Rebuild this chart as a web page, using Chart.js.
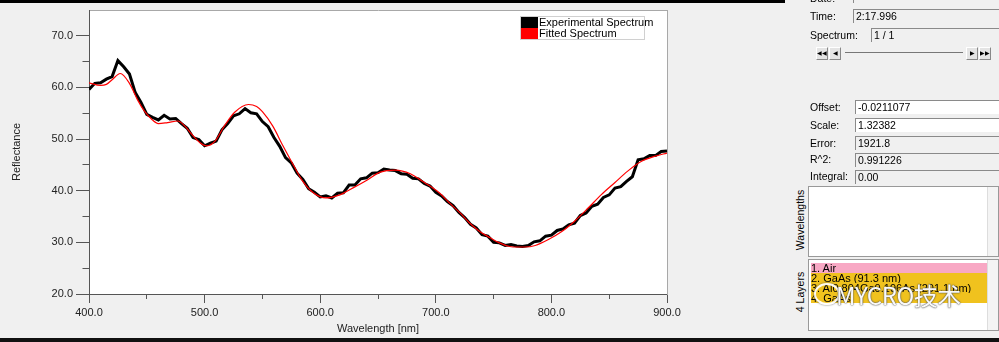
<!DOCTYPE html>
<html lang="en">
<head>
<meta charset="UTF-8">
<title>Spectrum Fit</title>
<script src="https://cdn.jsdelivr.net/npm/chart.js"></script>
<style>
  body { margin: 0; width: 999px; height: 342px; background: #f0f0f0; position: relative; overflow: hidden;
         font-family: "Liberation Sans", Arial, sans-serif; font-size: 10px; color: #000; }
  .bar-top { position: absolute; left: 0; top: 0; width: 785px; height: 3px; background: #000; }
  .bar-bottom { position: absolute; left: 0; top: 338px; width: 999px; height: 4px; background: #111; }
  .chart-box { position: absolute; left: 0; top: 0; width: 687px; height: 342px; }
  .legend { position: absolute; left: 520px; top: 16px; width: 123px; height: 22px; background: #fff; border: 1px solid #d0d0d0; }
  .legend div { height: 11px; line-height: 11px; font-size: 11px; white-space: nowrap; }
  .legend span { display: inline-block; width: 17px; height: 11px; vertical-align: top; margin-right: 1px; }
  .lbl { position: absolute; left: 810px; height: 14px; line-height: 14px; font-size: 10.5px; }
  .fld { position: absolute; right: 0; height: 13px; line-height: 13px; padding-left: 2px; background: #f0f0f0;
         border-top: 1px solid #8a8a8a; border-left: 1px solid #8a8a8a; white-space: nowrap; font-size: 10.5px; }
  .fld.edit { background: #fff; }
  .btn { position: absolute; top: 47px; width: 10px; height: 11px; background: #e4e4e4; border-right: 1px solid #888;
         border-bottom: 1px solid #888; border-top: 1px solid #fff; border-left: 1px solid #fff; font-size: 6px;
         line-height: 11px; text-align: center; }
  .slider { position: absolute; left: 845px; top: 52px; width: 118px; height: 1px; background: #777; }
  .box { position: absolute; left: 808px; width: 189px; background: #fff; border: 1px solid #999; }
  .scroll { position: absolute; right: 0; top: 0; bottom: 0; width: 10px; background: #f4f4f4; border-left: 1px solid #ddd; }
  .vlbl { position: absolute; transform: rotate(-90deg); transform-origin: center; white-space: nowrap;
          font-size: 10.5px; width: 80px; text-align: center; }
  .row { position: absolute; left: 2px; width: 178px; height: 10px; line-height: 10px; font-size: 11px; white-space: nowrap; }
  .mark { position: absolute; left: 836px; top: 277px; font-family: "Noto Sans CJK SC", sans-serif; font-size: 24px;
          color: rgba(255,255,255,0.97); text-shadow: 0 0 2px #555, 0 0 1px #333; letter-spacing: -0.5px; }
  .bubble { position: absolute; width: 22px; height: 18px; border-radius: 50%; border: 2px solid rgba(255,255,255,0.95);
            box-shadow: 0 0 2px #555; }
</style>
</head>
<body>

<div class="bar-top"></div>
<div class="chart-box"><canvas id="spectrum-chart"></canvas></div>
<div class="legend" id="legend"></div>

<!-- right side panel -->
<div class="lbl" style="top:-9px;">Date:</div>
<div class="fld" style="left:853px; top:-11px;">2023-07-13 13:11:13</div>
<div class="lbl" style="top:9px;">Time:</div>
<div class="fld" style="left:853px; top:9px;">2:17.996</div>
<div class="lbl" style="top:28px;">Spectrum:</div>
<div class="fld" style="left:871px; top:28px;">1 / 1</div>
<div class="btn" style="left:816px;">&#9664;&#9664;</div>
<div class="btn" style="left:829px;">&#9664;</div>
<div class="slider"></div>
<div class="btn" style="left:966px;">&#9654;</div>
<div class="btn" style="left:979px;">&#9654;&#9654;</div>

<div class="lbl" style="top:100px;">Offset:</div>
<div class="fld edit" style="left:855px; top:100px;">-0.0211077</div>
<div class="lbl" style="top:118px;">Scale:</div>
<div class="fld edit" style="left:855px; top:118px;">1.32382</div>
<div class="lbl" style="top:136px;">Error:</div>
<div class="fld" style="left:855px; top:136px;">1921.8</div>
<div class="lbl" style="top:152px;">R^2:</div>
<div class="fld" style="left:855px; top:153px;">0.991226</div>
<div class="lbl" style="top:169px;">Integral:</div>
<div class="fld" style="left:855px; top:170px;">0.00</div>

<div class="vlbl" style="left:760px; top:214px;">Wavelengths</div>
<div class="box" style="top:186px; height:69px;"><div class="scroll"></div></div>

<div class="vlbl" style="left:760px; top:286px;">4 Layers</div>
<div class="box" style="top:259px; height:70px;">
  <div class="row" style="top:3px; background:#f8a8c4;">1. Air</div>
  <div class="row" style="top:13px; background:#f0c21e;">2. GaAs (91.3 nm)</div>
  <div class="row" style="top:23px; background:#f0c21e;">3. Al0.804Ga0.196As (201.1 nm)</div>
  <div class="row" style="top:33px; background:#f0c21e;">4. GaAs</div>
  <div class="scroll"></div>
</div>
<div class="bubble" style="left:814px; top:283px;"></div>
<div class="mark">MYCRO技术</div>

<div class="bar-bottom"></div>

<script>
// experimental spectrum, read every 5 nm
const expWavelengths = [400, 405, 410, 415, 420, 425, 430, 435, 440, 445, 450, 455, 460, 465, 470, 475, 480, 485, 490, 495,
    500, 505, 510, 515, 520, 525, 530, 535, 540, 545, 550, 555, 560, 565, 570, 575, 580, 585, 590, 595,
    600, 605, 610, 615, 620, 625, 630, 635, 640, 645, 650, 655, 660, 665, 670, 675, 680, 685, 690, 695,
    700, 705, 710, 715, 720, 725, 730, 735, 740, 745, 750, 755, 760, 765, 770, 775, 780, 785, 790, 795,
    800, 805, 810, 815, 820, 825, 830, 835, 840, 845, 850, 855, 860, 865, 870, 875, 880, 885, 890, 895, 900];
const expReflectance = [59.6, 60.8, 60.9, 61.6, 62.1, 65.2, 64.0, 62.6, 59.0, 57.1, 54.8, 54.2, 53.7, 54.6, 53.9, 54.0, 53.0, 52.1, 50.3, 49.9,
    48.7, 49.2, 49.6, 51.8, 53.0, 54.5, 54.9, 55.9, 55.1, 54.9, 53.4, 52.4, 50.3, 48.6, 46.4, 45.4, 43.4, 42.2, 40.4, 39.7,
    38.8, 39.0, 38.6, 39.5, 39.6, 41.1, 41.1, 42.3, 42.5, 43.4, 43.5, 44.2, 44.0, 43.9, 43.3, 43.2, 42.4, 42.3, 41.4, 40.9,
    39.7, 39.0, 37.9, 37.1, 35.8, 34.8, 33.5, 32.8, 31.5, 31.2, 30.0, 29.9, 29.4, 29.6, 29.3, 29.2, 29.4, 30.1, 30.3, 31.2,
    31.4, 32.3, 32.6, 33.4, 33.7, 35.2, 35.7, 37.0, 37.4, 38.7, 39.2, 40.5, 40.8, 41.8, 42.7, 46.0, 46.2, 46.8, 46.8, 47.6, 47.7];

// fitted spectrum
const fitWavelengths = [400, 410, 415, 420, 427, 435, 442, 448, 454, 460, 468, 477, 483, 489, 496, 502, 509, 517, 526, 538,
    545, 550, 559, 568, 577, 585, 594, 605, 617, 628, 640, 652, 665, 678, 686, 695, 703, 712, 721, 729,
    738, 747, 755, 764, 771, 777, 786, 797, 809, 820, 832, 843, 855, 866, 878, 890, 900];
const fitReflectance = [60.9, 60.4, 60.6, 61.5, 62.7, 60.8, 57.6, 55.4, 53.9, 53.0, 53.2, 53.5, 52.5, 50.9, 49.3, 48.7, 49.6, 52.5, 55.2, 56.7,
    56.3, 55.3, 52.5, 48.6, 44.9, 41.8, 39.6, 38.6, 39.2, 40.5, 42.0, 43.6, 44.0, 43.3, 42.2, 40.9, 39.6, 37.6, 35.7, 33.8,
    32.1, 30.9, 29.9, 29.2, 29.1, 29.1, 29.4, 30.5, 32.1, 34.1, 36.7, 39.2, 41.6, 43.8, 45.7, 46.7, 47.3];

const xMajorTicks = [400, 500, 600, 700, 800, 900];
const xMinorTicks = [450, 550, 650, 750, 850];
const yMajorTicks = [20, 30, 40, 50, 60, 70];
const yMinorTicks = [25, 35, 45, 55, 65];

const axisFont = { family: 'Liberation Sans', size: 11 };
const axisColor = '#555';
const textColor = '#222';

const plotBackground = {
    id: 'plotBackground',
    beforeDraw(chart) {
        const { ctx, chartArea } = chart;
        ctx.save();
        ctx.fillStyle = '#fff';
        ctx.fillRect(chartArea.left, chartArea.top, chartArea.right - chartArea.left, chartArea.bottom - chartArea.top);
        ctx.restore();
    }
};

function tickScale(position, weight, min, max, values, tickLength, size) {
    return {
        type: 'linear', position: position, weight: weight, min: min, max: max,
        afterBuildTicks: s => { s.ticks = values.map(v => ({ value: v })); },
        afterFit: s => { if (s.isHorizontal()) s.height = size; else s.width = size; },
        ticks: { display: false },
        grid: { drawOnChartArea: false, tickLength: tickLength, color: axisColor, display: tickLength > 0 },
        border: { display: true, color: tickLength > 0 ? axisColor : '#a8a8a8' }
    };
}

const ctx = document.getElementById('spectrum-chart').getContext('2d');
const chart = new Chart(ctx, {
    type: 'line',
    data: {
        datasets: [{
            label: 'Experimental Spectrum',
            data: expWavelengths.map((w, i) => ({ x: w, y: expReflectance[i] })),
            borderColor: '#000',
            backgroundColor: '#000',
            borderWidth: 3,
            pointRadius: 0,
            tension: 0,
            order: 2
        }, {
            label: 'Fitted Spectrum',
            data: fitWavelengths.map((w, i) => ({ x: w, y: fitReflectance[i] })),
            borderColor: '#ff0000',
            backgroundColor: '#ff0000',
            borderWidth: 1.2,
            pointRadius: 0,
            cubicInterpolationMode: 'monotone',
            order: 1
        }]
    },
    options: {
        responsive: true,
        maintainAspectRatio: false,
        animation: false,
        layout: { padding: { left: 0, right: 20, top: 10, bottom: 0 } },
        plugins: { legend: { display: false }, tooltip: { enabled: false } },
        scales: {
            x: {
                type: 'linear', position: 'bottom', weight: 1, min: 400, max: 900,
                afterBuildTicks: s => { s.ticks = xMajorTicks.map(v => ({ value: v })); },
                afterFit: s => { s.height = 48; },
                ticks: { callback: v => v.toFixed(1), padding: 3, maxRotation: 0, autoSkip: false, font: axisFont, color: textColor },
                grid: { drawOnChartArea: false, tickLength: 9, color: axisColor },
                border: { color: axisColor },
                title: { display: true, text: 'Wavelength [nm]', font: axisFont, color: textColor, padding: { top: 0, bottom: 6 } }
            },
            xMinor: tickScale('bottom', 0, 400, 900, xMinorTicks, 5, 0),
            xTop: tickScale('top', 0, 400, 900, [], 0, 0),
            y: {
                type: 'linear', position: 'left', weight: 1, min: 20, max: 75,
                afterBuildTicks: s => { s.ticks = yMajorTicks.map(v => ({ value: v })); },
                afterFit: s => { s.width = 89; },
                ticks: { callback: v => v.toFixed(1), padding: 3, font: axisFont, color: textColor },
                grid: { drawOnChartArea: false, tickLength: 13, color: axisColor },
                border: { color: axisColor },
                title: { display: true, text: 'Reflectance', font: axisFont, color: textColor, padding: { top: 10, bottom: 0 } }
            },
            yMinor: tickScale('left', 0, 20, 75, yMinorTicks, 6.5, 0),
            yRight: tickScale('right', 0, 20, 75, [], 0, 0)
        }
    },
    plugins: [plotBackground]
});

// legend box from the dataset labels and colours
const legendBox = document.getElementById('legend');
chart.data.datasets.forEach(ds => {
    const row = document.createElement('div');
    row.innerHTML = '<span style="background:' + ds.borderColor + '"></span>' + ds.label;
    legendBox.appendChild(row);
});
</script>
</body>
</html>
